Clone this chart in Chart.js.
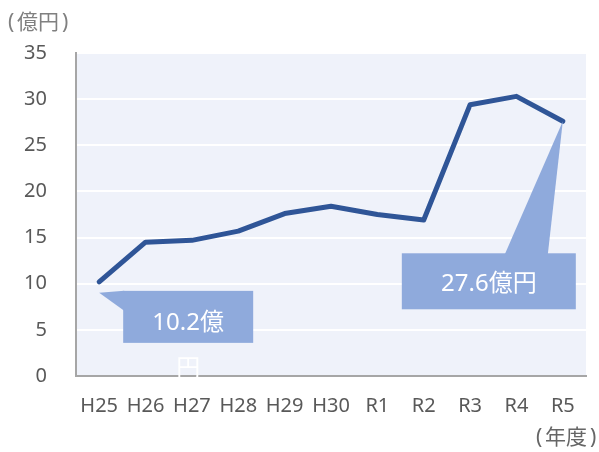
<!DOCTYPE html>
<html>
<head>
<meta charset="utf-8">
<script src="https://cdn.jsdelivr.net/npm/chart.js@4.4.0/dist/chart.umd.min.js"></script>
<style>
  html, body { margin: 0; padding: 0; background: #fff; }
  #wrap { width: 599px; height: 452px; }
</style>
</head>
<body>
<div id="wrap"><canvas id="chart" width="599" height="452"></canvas></div>
<script>
// data
const years = ['H25', 'H26', 'H27', 'H28', 'H29', 'H30', 'R1', 'R2', 'R3', 'R4', 'R5']
const amounts = [10.2, 14.5, 14.7, 15.7, 17.6, 18.4, 17.5, 16.9, 29.4, 30.3, 27.6]
const yMin = 0
const yMax = 35
const yStep = 5
const unitLabel = '億円'
const yearLabel = '年度'
const firstCallout = ['10.2億', '円']
const lastCallout = ['27.6億円']

const FONT = '"Noto Sans", "Noto Sans CJK JP", sans-serif'
const TEXT = '#595959'
const CALLOUT = '#8FAADC'

const plotBackground = {
  id: 'plotBackground',
  beforeDraw(chart) {
    const { ctx, chartArea: a } = chart
    ctx.save()
    ctx.fillStyle = '#EFF2FA'
    ctx.fillRect(a.left, a.top, a.right - a.left, a.bottom - a.top)
    ctx.restore()
  }
}

// bracketed label, parens spaced out a little like the original
function bracketed(ctx, text, x, y) {
  ctx.textAlign = 'left'
  ctx.fillText('(', x, y)
  const w = ctx.measureText(text).width
  ctx.fillText(text, x + 9, y)
  ctx.fillText(')', x + 9 + w + 3, y)
}

// callouts + the two loose unit labels
const callouts = {
  id: 'callouts',
  afterDatasetsDraw(chart) {
    const { ctx } = chart
    const pts = chart.getDatasetMeta(0).data
    ctx.save()
    ctx.fillStyle = CALLOUT

    // first point: box below right, tail pointing up-left
    let p = pts[0]
    let bx = p.x + 24, by = p.y + 9, bw = 130, bh = 52
    ctx.fillRect(bx, by, bw, bh)
    ctx.beginPath()
    ctx.moveTo(p.x, p.y + 11)
    ctx.lineTo(bx + 1, by)
    ctx.lineTo(bx + 1, by + 20)
    ctx.closePath()
    ctx.fill()
    ctx.fillStyle = '#fff'
    ctx.font = '24px ' + FONT
    ctx.textAlign = 'center'
    ctx.textBaseline = 'middle'
    ctx.fillText(firstCallout[0], bx + bw / 2, by + 32)
    ctx.fillText(firstCallout[1], bx + bw / 2, by + 78)

    // last point: box below left, tail pointing up
    p = pts[pts.length - 1]
    bx = p.x - 161; by = p.y + 132; bw = 174; bh = 56
    ctx.fillStyle = CALLOUT
    ctx.fillRect(bx, by, bw, bh)
    ctx.beginPath()
    ctx.moveTo(p.x, p.y)
    ctx.lineTo(p.x - 58, by + 1)
    ctx.lineTo(p.x - 15, by + 1)
    ctx.closePath()
    ctx.fill()
    ctx.fillStyle = '#fff'
    ctx.fillText(lastCallout[0], bx + bw / 2, by + 31)

    ctx.font = '21px ' + FONT
    ctx.fillStyle = '#808080'
    bracketed(ctx, unitLabel, 8, 23)
    ctx.fillStyle = '#666666'
    bracketed(ctx, yearLabel, 536, 438)
    ctx.restore()
  }
}

new Chart(document.getElementById('chart'), {
  type: 'line',
  data: {
    labels: years,
    datasets: [{
      data: amounts,
      borderColor: '#2F5597',
      borderWidth: 5,
      borderCapStyle: 'round',
      borderJoinStyle: 'round',
      pointRadius: 0,
      tension: 0,
      fill: false
    }]
  },
  options: {
    responsive: false,
    animation: false,
    layout: { padding: { left: 0, top: 53, right: 13, bottom: 0 } },
    plugins: { legend: { display: false }, tooltip: { enabled: false } },
    scales: {
      x: {
        offset: true,
        grid: { display: false, drawTicks: false },
        border: { display: true, color: '#A6A6A6', width: 2 },
        ticks: { color: TEXT, font: { family: FONT, size: 20 }, padding: 18, maxRotation: 0, autoSkip: false },
        afterFit(scale) { scale.height = 76 }
      },
      y: {
        min: yMin,
        max: yMax,
        grid: { color: '#FFFFFF', lineWidth: 2, drawTicks: false },
        border: { display: true, color: '#A6A6A6', width: 2 },
        ticks: { stepSize: yStep, color: TEXT, font: { family: FONT, size: 20 }, padding: 29 },
        afterFit(scale) { scale.width = 76 }
      }
    }
  },
  plugins: [plotBackground, callouts]
})
</script>
</body>
</html>
